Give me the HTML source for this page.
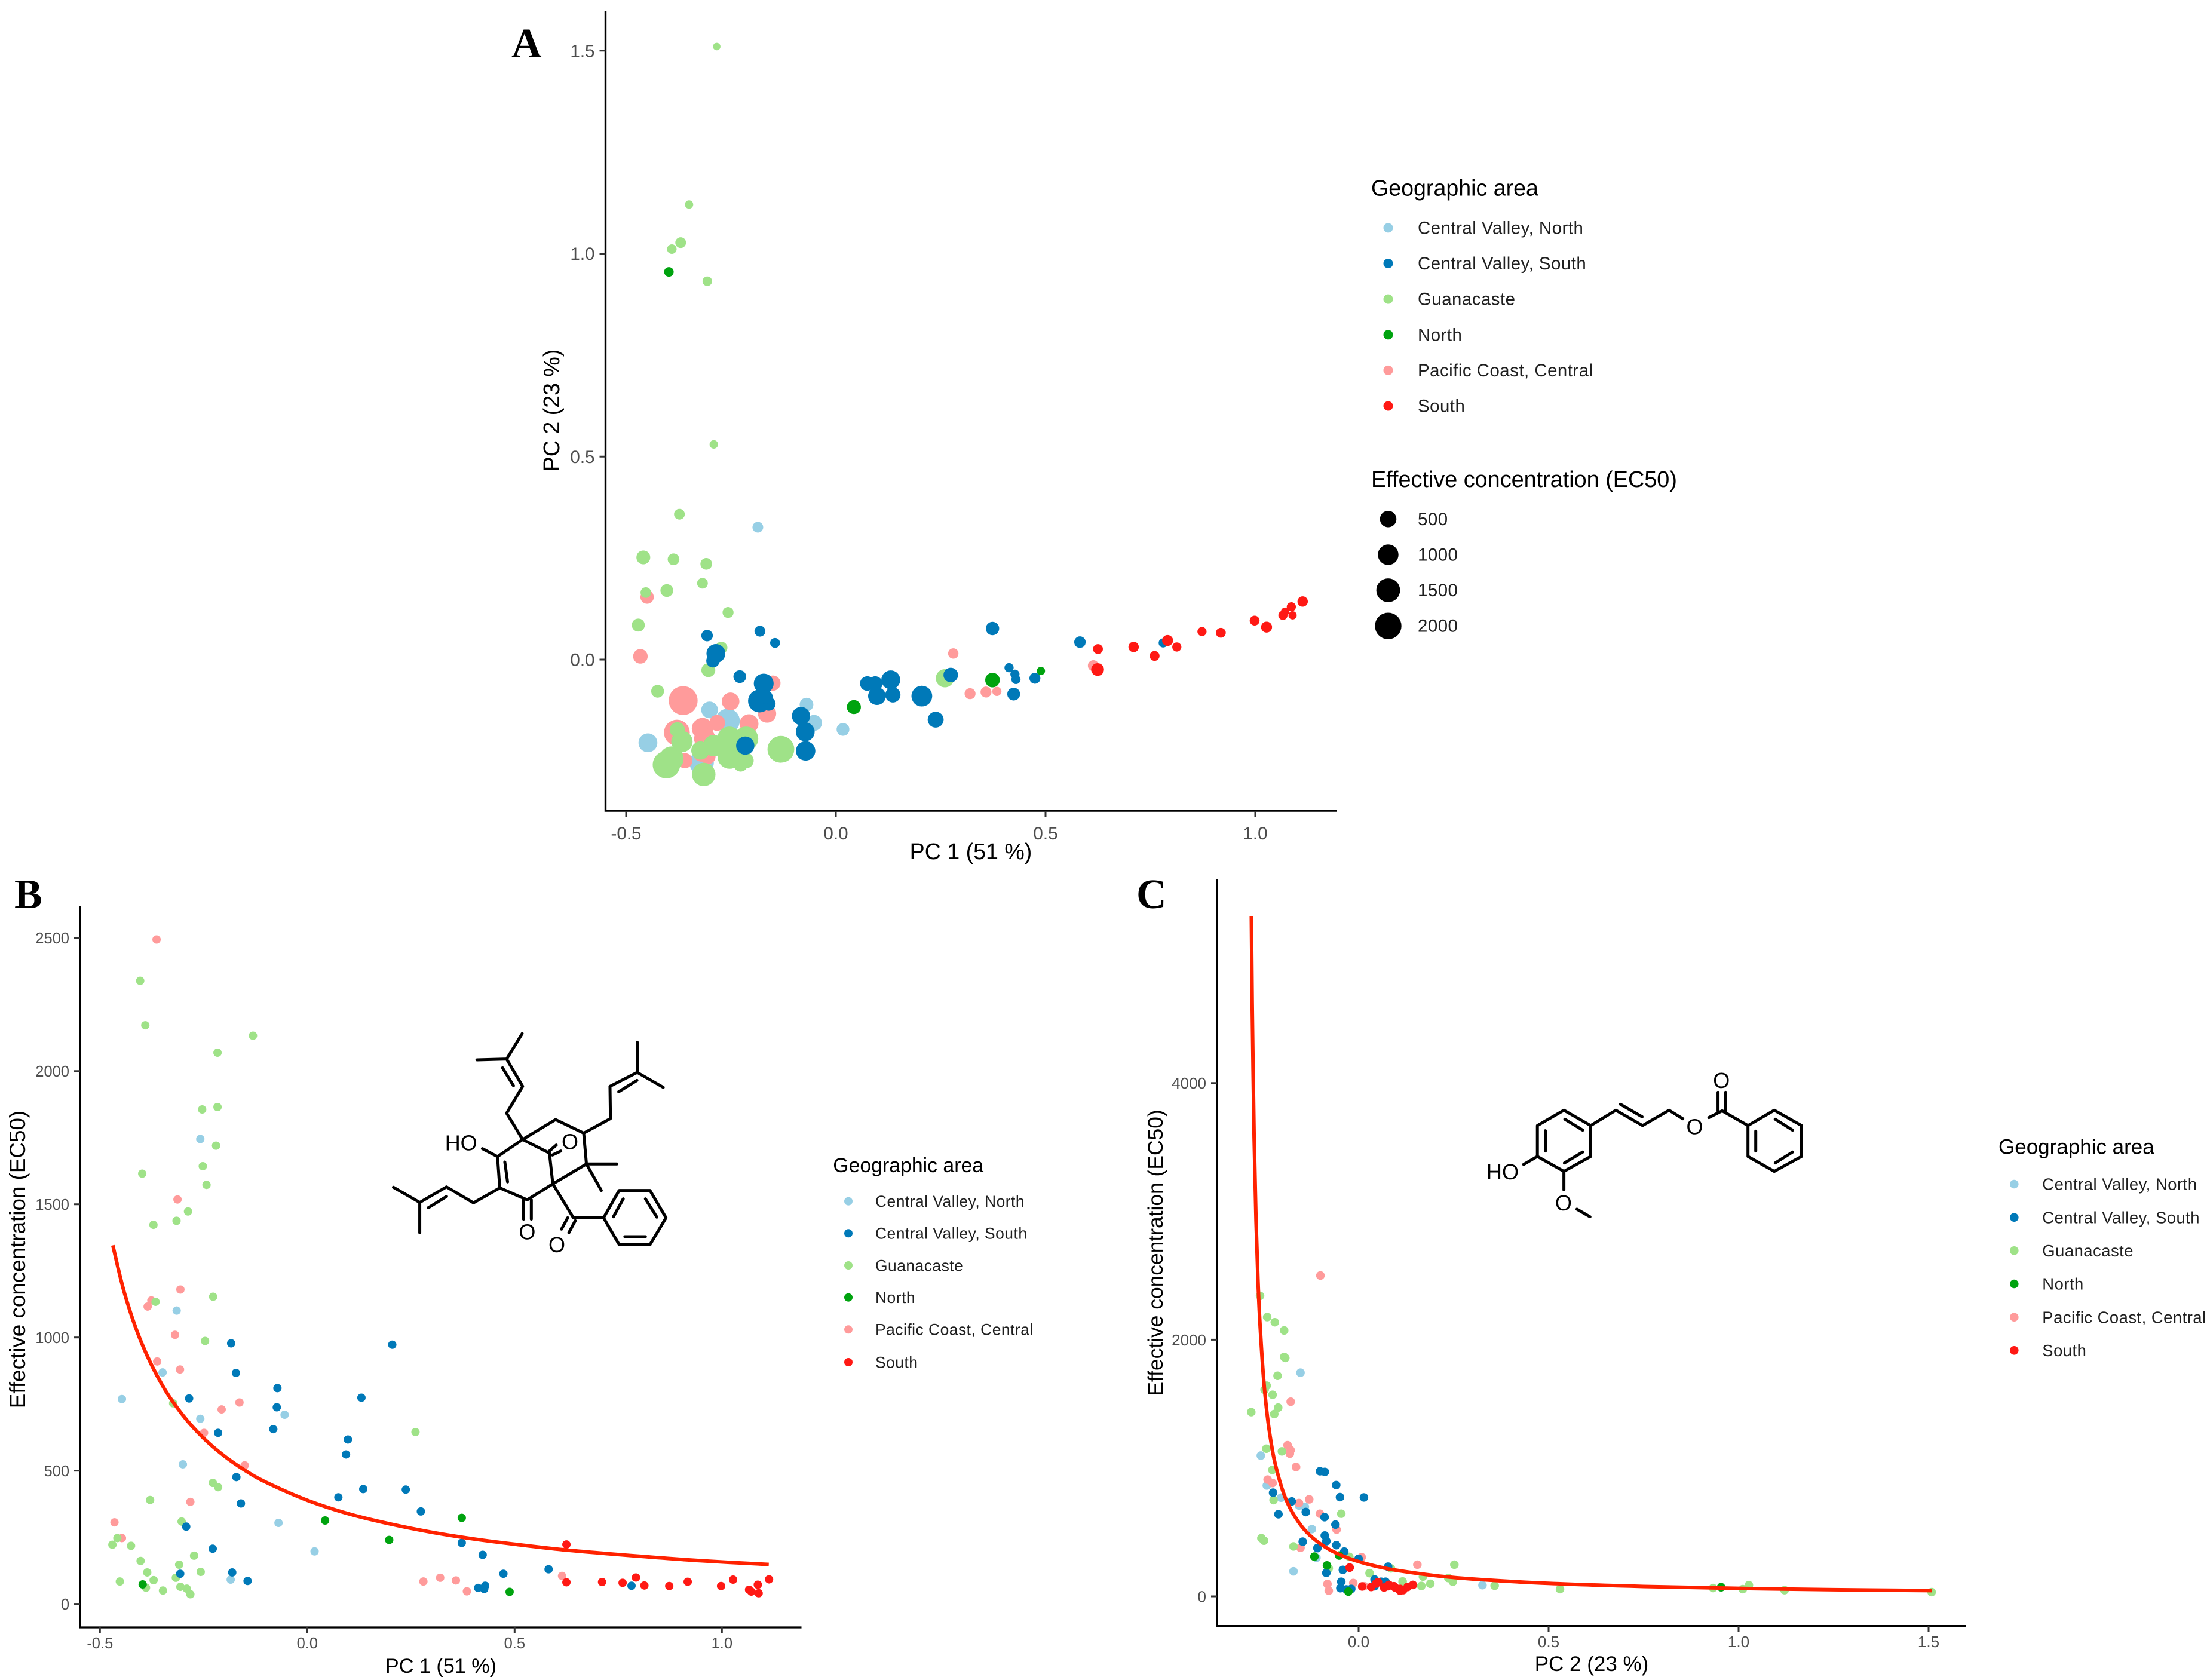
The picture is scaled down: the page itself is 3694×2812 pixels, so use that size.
<!DOCTYPE html>
<html lang="en">
<head>
<meta charset="utf-8">
<title>PCA and EC50 panels</title>
<style>
html,body{margin:0;padding:0;background:#fff;}
svg{display:block;}
text{font-family:"Liberation Sans",sans-serif;}
.ttl{fill:#000;}
.lab{fill:#1f1f1f;letter-spacing:0.5px;}
.letter{font-family:"Liberation Serif",serif;font-weight:bold;font-size:70px;fill:#000;}
.mol path{fill:none;stroke:#000;stroke-width:5;stroke-linecap:round;stroke-linejoin:round;vector-effect:non-scaling-stroke;}
.mol-text{font-size:36px;fill:#000;}
</style>
</head>
<body>
<svg id="fig" xmlns="http://www.w3.org/2000/svg" width="3694" height="2812" viewBox="0 0 3694 2812">
<rect width="3694" height="2812" fill="#fff"/>

<g id="panel-a">
<text class="letter" x="856" y="96">A</text>
<text class="ttl" x="1625" y="1438" font-size="37.6" text-anchor="middle">PC 1 (51 %)</text>
<text class="ttl" transform="translate(936,687) rotate(-90)" font-size="37.6" text-anchor="middle">PC 2 (23 %)</text>
</g>
<g id="panel-b">
<text class="letter" x="24" y="1520">B</text>
<text class="ttl" x="738" y="2800" font-size="34.2" text-anchor="middle">PC 1 (51 %)</text>
<text class="ttl" transform="translate(42,2108) rotate(-90)" font-size="36.8" text-anchor="middle">Effective concentration (EC50)</text>
</g>
<g id="panel-c">
<text class="letter" x="1902" y="1520">C</text>
<text class="ttl" x="2664" y="2797" font-size="35" text-anchor="middle">PC 2 (23 %)</text>
<text class="ttl" transform="translate(1946,2097) rotate(-90)" font-size="35.4" text-anchor="middle">Effective concentration (EC50)</text>
</g>

<g id="legend-a">
<text class="ttl" x="2295" y="327.5" font-size="37.6">Geographic area</text>
<circle cx="2323.5" cy="381.4" r="8" fill="#97CFE5"/>
<text class="lab" x="2373" y="391.4" font-size="29.4">Central Valley, North</text>
<circle cx="2323.5" cy="441" r="8" fill="#0079B8"/>
<text class="lab" x="2373" y="451" font-size="29.4">Central Valley, South</text>
<circle cx="2323.5" cy="500.6" r="8" fill="#9FE288"/>
<text class="lab" x="2373" y="510.6" font-size="29.4">Guanacaste</text>
<circle cx="2323.5" cy="560.3" r="8" fill="#00A30F"/>
<text class="lab" x="2373" y="570.3" font-size="29.4">North</text>
<circle cx="2323.5" cy="619.9" r="8" fill="#FF9B9B"/>
<text class="lab" x="2373" y="629.9" font-size="29.4">Pacific Coast, Central</text>
<circle cx="2323.5" cy="679.5" r="8" fill="#FF1914"/>
<text class="lab" x="2373" y="689.5" font-size="29.4">South</text>
</g>
<g id="legend-size">
<text class="ttl" x="2295" y="815" font-size="37.8">Effective concentration (EC50)</text>
<circle cx="2323.5" cy="868.8" r="13.8" fill="#000"/>
<text class="lab" x="2373" y="878.8" font-size="29.4">500</text>
<circle cx="2323.5" cy="928.5" r="17.2" fill="#000"/>
<text class="lab" x="2373" y="938.5" font-size="29.4">1000</text>
<circle cx="2323.5" cy="988" r="19.9" fill="#000"/>
<text class="lab" x="2373" y="998" font-size="29.4">1500</text>
<circle cx="2323.5" cy="1047.7" r="22.2" fill="#000"/>
<text class="lab" x="2373" y="1057.7" font-size="29.4">2000</text>
</g>

<g id="legend-b">
<text class="ttl" x="1394.3" y="1962" font-size="33.8">Geographic area</text>
<circle cx="1420" cy="2010.7" r="7" fill="#97CFE5"/>
<text class="lab" x="1465" y="2020" font-size="26.4">Central Valley, North</text>
<circle cx="1420" cy="2064.3" r="7" fill="#0079B8"/>
<text class="lab" x="1465" y="2073.6" font-size="26.4">Central Valley, South</text>
<circle cx="1420" cy="2118" r="7" fill="#9FE288"/>
<text class="lab" x="1465" y="2127.3" font-size="26.4">Guanacaste</text>
<circle cx="1420" cy="2171.7" r="7" fill="#00A30F"/>
<text class="lab" x="1465" y="2181" font-size="26.4">North</text>
<circle cx="1420" cy="2225.3" r="7" fill="#FF9B9B"/>
<text class="lab" x="1465" y="2234.6" font-size="26.4">Pacific Coast, Central</text>
<circle cx="1420" cy="2280" r="7" fill="#FF1914"/>
<text class="lab" x="1465" y="2289.3" font-size="26.4">South</text>
</g>

<g id="legend-c">
<text class="ttl" x="3345" y="1931.7" font-size="35">Geographic area</text>
<circle cx="3371.3" cy="1982" r="7.3" fill="#97CFE5"/>
<text class="lab" x="3418.3" y="1991.7" font-size="27.4">Central Valley, North</text>
<circle cx="3371.3" cy="2037.7" r="7.3" fill="#0079B8"/>
<text class="lab" x="3418.3" y="2047.4" font-size="27.4">Central Valley, South</text>
<circle cx="3371.3" cy="2093.3" r="7.3" fill="#9FE288"/>
<text class="lab" x="3418.3" y="2103" font-size="27.4">Guanacaste</text>
<circle cx="3371.3" cy="2149" r="7.3" fill="#00A30F"/>
<text class="lab" x="3418.3" y="2158.7" font-size="27.4">North</text>
<circle cx="3371.3" cy="2204.7" r="7.3" fill="#FF9B9B"/>
<text class="lab" x="3418.3" y="2214.4" font-size="27.4">Pacific Coast, Central</text>
<circle cx="3371.3" cy="2260.3" r="7.3" fill="#FF1914"/>
<text class="lab" x="3418.3" y="2270" font-size="27.4">South</text>
</g>

<g class="mol">
<g transform="matrix(0.3827,0,0,0.3333,600,1700)">
<path d="M716 90L648 218M518 222L648 218L718 355L648 490L718 622M630 262L678 352
M1219 133L1219 285L1333 360M1219 285L1100 355L1102 517L985 590M1218 325L1138 382
M718 622L862 522L985 590L997 745L1130 745M997 745L1062 878M997 745L850 845
M718 622L835 690L850 845M835 680L865 650M848 700L885 680
M718 622L608 708L618 865L738 925L850 845M640 735L652 835M608 708L542 668
M618 865L503 940L385 860L268 938L153 862M268 938L268 1090M385 908L305 965
M722 925L722 1022M756 925L756 1022
M850 845L940 1015L1072 1015M915 1015L888 1072M948 1030L920 1090
M1072 1015L1140 878L1275 878L1345 1015L1275 1150L1140 1150Z
M1158 920L1115 1010M1255 920L1305 1012M1165 1110L1255 1110"/>
</g>
<text class="mol-text" x="744.7" y="1925.7">HO</text>
<text class="mol-text" x="954" y="1923.5" text-anchor="middle">O</text>
<text class="mol-text" x="882.4" y="2074.5" text-anchor="middle">O</text>
<text class="mol-text" x="932" y="2096" text-anchor="middle">O</text>
</g>

<g class="mol">
<g transform="matrix(0.3827,0,0,0.3333,2450,1750)">
<path d="M438 325L555 402L555 557L438 632L322 557L322 402Z
M442 370L520 425M520 535L440 590M357 428L357 530
M555 402L665 325L782 402L898 325L958 368M685 295L780 358
M1072 362L1130 328L1243 402M1112 235L1112 330M1145 235L1145 330
M1243 402L1358 325L1477 402L1477 557L1358 632L1243 557Z
M1362 370L1438 425M1438 535L1362 590M1277 430L1277 530
M322 557L262 597M438 632L438 725M495 822L552 860"/>
</g>
<text class="mol-text" x="2488" y="1974" font-size="35">HO</text>
<text class="mol-text" x="2836.5" y="1898.5" text-anchor="middle">O</text>
<text class="mol-text" x="2881.3" y="1821" text-anchor="middle">O</text>
<text class="mol-text" x="2616.9" y="2026" text-anchor="middle">O</text>
</g>
</svg>

<script>
/* ---------- tick labels ---------- */
const xTicksA = [-0.5, 0.0, 0.5, 1.0];
const yTicksA = [0.0, 0.5, 1.0, 1.5];
const xTicksB = [-0.5, 0.0, 0.5, 1.0];
const yTicksB = [0, 500, 1000, 1500, 2000, 2500];
const xTicksC = [0.0, 0.5, 1.0, 1.5];
const yTicksC = [0, 2000, 4000];

/* ---------- Panel A: PC1, PC2, EC50 ---------- */
const aCvnPc1 = [-0.186,-0.448,-0.301,-0.258,-0.070,-0.052,0.017,-0.320];
const aCvnPc2 = [0.326,-0.205,-0.124,-0.151,-0.111,-0.156,-0.172,-0.254];
const aCvnEc50 = [100,780,536,1600,275,460,210,1600];

const aPccPc1 = [-0.450,-0.466,-0.150,-0.364,-0.251,-0.164,-0.207,-0.283,-0.379,-0.318,-0.3125,-0.320,-0.360,-0.305,0.280,0.320,0.358,0.384,0.614];
const aPccPc2 = [0.154,0.008,-0.058,-0.101,-0.103,-0.133,-0.158,-0.156,-0.180,-0.170,-0.195,-0.229,-0.249,-0.239,0.015,-0.084,-0.080,-0.0785,-0.015];
const aPccEc50 = [250,340,395,2490,640,706,780,460,1870,1117,1117,706,395,395,85,110,110,42,110];

const aGuaPc1 = [-0.284,-0.350,-0.370,-0.391,-0.3065,-0.291,-0.373,-0.459,-0.387,-0.309,-0.318,-0.403,-0.453,-0.257,-0.471,-0.273,-0.304,-0.425,-0.131,0.260,-0.315,-0.404,-0.392,-0.367,-0.378,-0.323,-0.291,-0.254,-0.253,-0.214,-0.222,-0.227,-0.214];
const aGuaPc2 = [1.510,1.121,1.027,1.011,0.932,0.530,0.358,0.2517,0.247,0.2357,0.188,0.170,0.165,0.116,0.085,0.029,-0.026,-0.078,-0.221,-0.046,-0.283,-0.259,-0.244,-0.202,-0.173,-0.224,-0.212,-0.195,-0.239,-0.195,-0.244,-0.259,-0.249];
const aGuaEc50 = [8,22,100,54,54,25,100,284,146,146,100,210,95,110,225,170,290,210,2050,700,1450,2170,1600,1117,395,706,1117,1600,1600,1600,706,275,395];

const aCvsPc1 = [-0.307,-0.181,-0.145,-0.286,-0.293,-0.229,-0.172,-0.182,-0.160,-0.167,-0.083,-0.073,-0.072,0.075,0.094,0.098,0.131,0.136,0.205,0.238,0.274,0.3735,0.413,0.427,0.4295,0.4746,0.424,-0.216,0.582,0.7805];
const aCvsPc2 = [0.059,0.070,0.041,0.015,-0.003,-0.042,-0.059,-0.102,-0.109,-0.092,-0.139,-0.178,-0.225,-0.059,-0.059,-0.090,-0.050,-0.087,-0.090,-0.148,-0.038,0.0765,-0.020,-0.036,-0.049,-0.046,-0.085,-0.212,0.043,0.041];
const aCvsEc50 = [135,110,65,780,250,210,900,1350,275,275,706,780,850,340,340,640,780,395,1030,460,340,250,42,42,42,110,210,706,135,42];

const aNorPc1 = [0.043,0.3735,0.489,-0.398];
const aNorPc2 = [-0.117,-0.0505,-0.028,0.955];
const aNorEc50 = [300,340,20,54];

const aSouPc1 = [0.625,0.710,0.760,0.791,0.813,0.873,0.918,0.9985,1.027,1.066,1.071,1.086,1.089,1.113,0.624];
const aSouPc2 = [0.026,0.031,0.009,0.047,0.031,0.069,0.066,0.096,0.080,0.109,0.118,0.130,0.109,0.143,-0.0245];
const aSouEc50 = [65,85,65,110,42,42,65,65,110,42,20,42,20,85,210];

/* ---------- Panel B: PC1 vs EC50 ---------- */
const bCvnPc1 = [-0.258,-0.315,-0.349,-0.447,-0.258,-0.0547,-0.300,-0.0694,0.0176,-0.1847];
const bCvnEc50 = [1745,1101,869,769,695,710,524,304,197,91];

const bPccPc1 = [-0.3635,-0.313,-0.306,-0.376,-0.385,-0.319,-0.362,-0.307,-0.1635,-0.2065,-0.249,-0.151,-0.282,-0.465,-0.447,0.280,0.3205,0.3585,0.385,0.6145];
const bPccEc50 = [2494,1518,1180,1139,1116,1010,910,880,756,730,642,520,383,306,247,84,98,88,47,105];

const bGuaPc1 = [-0.403,-0.3906,-0.131,-0.2165,-0.2165,-0.2535,-0.220,-0.252,-0.243,-0.398,-0.2876,-0.3153,-0.371,-0.366,-0.227,-0.2465,-0.3235,0.261,-0.2276,-0.215,-0.379,-0.303,-0.458,-0.470,-0.425,-0.402,-0.273,-0.386,-0.309,-0.257,-0.317,-0.3706,-0.452,-0.389,-0.306,-0.2906,-0.348,-0.282];
const bGuaEc50 = [2339,2172,2133,2069,1865,1856,1720,1643,1573,1615,1473,1438,1423,1134,1153,987,753,645,454,438,390,309,247,222,218,161,181,118,147,120,98,89,84,61,64,57,50,36];

const bCvsPc1 = [-0.1835,-0.172,-0.072,0.1306,0.205,-0.285,-0.0735,-0.082,-0.215,0.098,0.0935,-0.171,0.135,0.2376,-0.160,0.075,0.274,-0.292,-0.228,-0.181,-0.3065,-0.144,0.3726,0.423,0.473,0.412,0.4267,0.429,0.582,0.782];
const bCvsEc50 = [978,867,810,774,973,771,738,656,642,617,561,476,431,429,377,400,347,290,207,118,113,86,229,184,113,60,56,68,130,68];

const bNorPc1 = [0.043,0.1976,-0.397,0.3726,0.488];
const bNorEc50 = [313,240,73,323,45];

const bSouPc1 = [0.625,0.625,0.711,0.7605,0.7927,0.813,0.873,0.9175,0.998,1.027,1.0655,1.071,1.0866,1.0886,1.1137];
const bSouEc50 = [223,81,82,79,99,69,67,83,67,91,53,46,72,40,92];

const bCurvePc1 = [-0.469,-0.44,-0.4,-0.35,-0.3,-0.25,-0.2,-0.15,-0.1,0,0.1,0.2,0.3,0.4,0.5,0.625,0.8,0.95,1.113];
const bCurveEc50 = [1346,1162,981,822,708,622,555,501,457,389,338,300,269,244,224,202,179,162,148];

/* ---------- Panel C: PC2 vs EC50 ---------- */
const cCvnPc2 = [-0.153,-0.2573,-0.2416,-0.204,-0.1415,-0.157,-0.123,-0.111,-0.1714,0.326];
const cCvnEc50 = [1743,1097,864,769,698,708,524,301,195,87];

const cPccPc2 = [-0.1006,-0.1787,-0.187,-0.179,-0.181,-0.1646,-0.2395,-0.2264,-0.130,-0.157,-0.102,-0.058,-0.153,0.008,0.1546,-0.082,-0.0786,-0.014,0.0147];
const cPccEc50 = [2500,1517,1178,1139,1112,1008,910,883,756,727,644,520,378,305,247,96,44,104,79];

const cGuaPc2 = [-0.2594,-0.2406,-0.2206,-0.196,-0.196,-0.193,-0.2133,-0.242,-0.2474,-0.2264,-0.2117,-0.222,-0.2825,-0.2427,-0.2018,-0.227,-0.2238,-0.0456,-0.2558,-0.249,-0.1714,-0.0246,-0.0786,0.0288,0.085,0.252,0.1693,0.1158,0.236,0.248,0.1887,0.165,0.358,0.530,0.9326,1.011,1.027,1.121,1.508];
const cGuaEc50 = [2342,2176,2136,2072,1866,1858,1719,1642,1610,1571,1471,1421,1436,1151,1130,985,750,644,453,434,389,308,218,181,218,247,154,116,143,114,98,81,83,56,65,56,87,48,33];

const cCvsPc2 = [-0.1017,-0.089,-0.059,-0.049,0.014,-0.225,-0.176,-0.139,-0.211,-0.0896,-0.061,-0.089,-0.085,-0.0587,-0.147,-0.1085,-0.0377,0,0.0776,-0.0414,-0.085,-0.0456,0.042,0.059,0.071,0.042,-0.048,-0.0325,-0.0194];
const cCvsEc50 = [975,970,867,773,771,808,740,657,640,617,559,474,430,399,426,376,349,293,231,206,183,114,131,114,114,79,64,54,58];

const cNorPc2 = [-0.1164,-0.051,-0.0833,-0.027,0.954];
const cNorEc50 = [310,318,241,37,71];

const cSouPc2 = [-0.0236,0.0094,0.033,0.051,0.067,0.080,0.096,0.109,0.117,0.129,0.143,0.093,0.109,0.046,0.0776];
const cSouEc50 = [224,77,73,110,69,89,69,44,48,73,89,79,58,100,79];

const cCurvePc2 = [-0.2823,-0.28,-0.275,-0.27,-0.265,-0.26,-0.25,-0.24,-0.23,-0.22,-0.2,-0.18,-0.15,-0.12,-0.08,-0.04,0,0.05,0.1,0.2,0.3,0.5,0.75,1,1.25,1.508];
const cCurveEc50 = [5300,4600,3578,2927,2477,2147,1695,1400,1193,1039,826,685,546,454,370,313,271,232,203,162,135,101,77,62,52,45];

/* ---------- axis functions ---------- */
const SVGNS = 'http://www.w3.org/2000/svg';
const xA = v => 1399 + v * 702;
const yA = v => 1104 - v * 679.5;
const rA = v => 5.2 + 0.38 * Math.sqrt(v);
const xB = v => 514.3 + v * 694;
const yB = v => 2684.6 - v * 0.4459;
const xC = v => 2274 + v * 636;
const yC = v => 2672 - v * 0.2148;

const COL = {cvn:'#97CFE5', pcc:'#FF9B9B', gua:'#9FE288', cvs:'#0079B8', nor:'#00A30F', sou:'#FF1914'};

function make(tag, parent, attrs, txt) {
  const el = document.createElementNS(SVGNS, tag);
  for (const k in attrs) el.setAttribute(k, attrs[k]);
  if (txt !== undefined) el.textContent = txt;
  parent.appendChild(el);
  return el;
}

function drawPoints(parent, key, xs, ys, sizes, fx, fy, fr) {
  xs.forEach((v, i) => {
    const c = make('circle', parent, {cx: fx(v), cy: fy(ys[i]), r: sizes ? fr(sizes[i]) : fr, fill: COL[key]});
    
    
  });
}

function drawAxes(parent, cfg) {
  const axis = make('path', parent, {
    d: 'M' + cfg.left + ' ' + cfg.top + 'V' + cfg.bottom + 'H' + cfg.right,
    fill: 'none', stroke: '#000', 'stroke-width': cfg.lw
  });
  
  
  cfg.xTicks.forEach(t => {
    const p = cfg.fx(t);
    const m = make('line', parent, {x1: p, x2: p, y1: cfg.bottom, y2: cfg.bottom + 10, stroke: '#333', 'stroke-width': 3});
    
    
    const l = make('text', parent, {x: p, y: cfg.xLabelY, 'font-size': cfg.font, 'text-anchor': 'middle', fill: '#4D4D4D'}, t.toFixed(1));
    
    
  });
  cfg.yTicks.forEach(t => {
    const p = cfg.fy(t);
    const m = make('line', parent, {x1: cfg.left - 10, x2: cfg.left, y1: p, y2: p, stroke: '#333', 'stroke-width': 3});
    
    
    const l = make('text', parent, {x: cfg.left - 18, y: p + cfg.font * 0.36, 'font-size': cfg.font, 'text-anchor': 'end', fill: '#4D4D4D'}, cfg.yFmt(t));
    
    
  });
}

function drawCurve(parent, xs, ys, fx, fy) {
  const pts = xs.map((v, i) => [fx(v), fy(ys[i])]);
  let d = 'M' + pts[0][0] + ' ' + pts[0][1];
  for (let i = 0; i < pts.length - 1; i++) {
    const p0 = pts[Math.max(i - 1, 0)], p1 = pts[i], p2 = pts[i + 1], p3 = pts[Math.min(i + 2, pts.length - 1)];
    d += 'C' + (p1[0] + (p2[0] - p0[0]) / 6) + ' ' + (p1[1] + (p2[1] - p0[1]) / 6) + ' ' +
         (p2[0] - (p3[0] - p1[0]) / 6) + ' ' + (p2[1] - (p3[1] - p1[1]) / 6) + ' ' + p2[0] + ' ' + p2[1];
  }
  const path = make('path', parent, {d: d, fill: 'none', stroke: '#FF2200', 'stroke-width': 6});
  
  
}

const fix1 = t => t.toFixed(1);
const fix0 = t => String(t);

/* Panel A */
const gA = document.getElementById('panel-a');
drawAxes(gA, {left:1013.5, right:2237, top:18, bottom:1357, lw:3.4, xTicks:xTicksA, yTicks:yTicksA, fx:xA, fy:yA, xLabelY:1405, font:29.6, yFmt:fix1});
drawPoints(gA, 'cvn', aCvnPc1, aCvnPc2, aCvnEc50, xA, yA, rA);
drawPoints(gA, 'pcc', aPccPc1, aPccPc2, aPccEc50, xA, yA, rA);
drawPoints(gA, 'gua', aGuaPc1, aGuaPc2, aGuaEc50, xA, yA, rA);
drawPoints(gA, 'cvs', aCvsPc1, aCvsPc2, aCvsEc50, xA, yA, rA);
drawPoints(gA, 'nor', aNorPc1, aNorPc2, aNorEc50, xA, yA, rA);
drawPoints(gA, 'sou', aSouPc1, aSouPc2, aSouEc50, xA, yA, rA);

/* Panel B */
const gB = document.getElementById('panel-b');
drawAxes(gB, {left:134, right:1341.5, top:1517, bottom:2724, lw:3.2, xTicks:xTicksB, yTicks:yTicksB, fx:xB, fy:yB, xLabelY:2759, font:25.5, yFmt:fix0});
drawPoints(gB, 'cvn', bCvnPc1, bCvnEc50, null, xB, yB, 7);
drawPoints(gB, 'pcc', bPccPc1, bPccEc50, null, xB, yB, 7);
drawPoints(gB, 'gua', bGuaPc1, bGuaEc50, null, xB, yB, 7);
drawPoints(gB, 'cvs', bCvsPc1, bCvsEc50, null, xB, yB, 7);
drawPoints(gB, 'nor', bNorPc1, bNorEc50, null, xB, yB, 7);
drawPoints(gB, 'sou', bSouPc1, bSouEc50, null, xB, yB, 7);
drawCurve(gB, bCurvePc1, bCurveEc50, xB, yB);

/* Panel C */
const gC = document.getElementById('panel-c');
drawAxes(gC, {left:2037, right:3290, top:1472, bottom:2721.5, lw:3, xTicks:xTicksC, yTicks:yTicksC, fx:xC, fy:yC, xLabelY:2757, font:26, yFmt:fix0});
drawPoints(gC, 'cvn', cCvnPc2, cCvnEc50, null, xC, yC, 7.2);
drawPoints(gC, 'pcc', cPccPc2, cPccEc50, null, xC, yC, 7.2);
drawPoints(gC, 'gua', cGuaPc2, cGuaEc50, null, xC, yC, 7.2);
drawPoints(gC, 'cvs', cCvsPc2, cCvsEc50, null, xC, yC, 7.2);
drawPoints(gC, 'nor', cNorPc2, cNorEc50, null, xC, yC, 7.2);
drawPoints(gC, 'sou', cSouPc2, cSouEc50, null, xC, yC, 7.2);
drawCurve(gC, cCurvePc2, cCurveEc50, xC, yC);
</script>
</body>
</html>
